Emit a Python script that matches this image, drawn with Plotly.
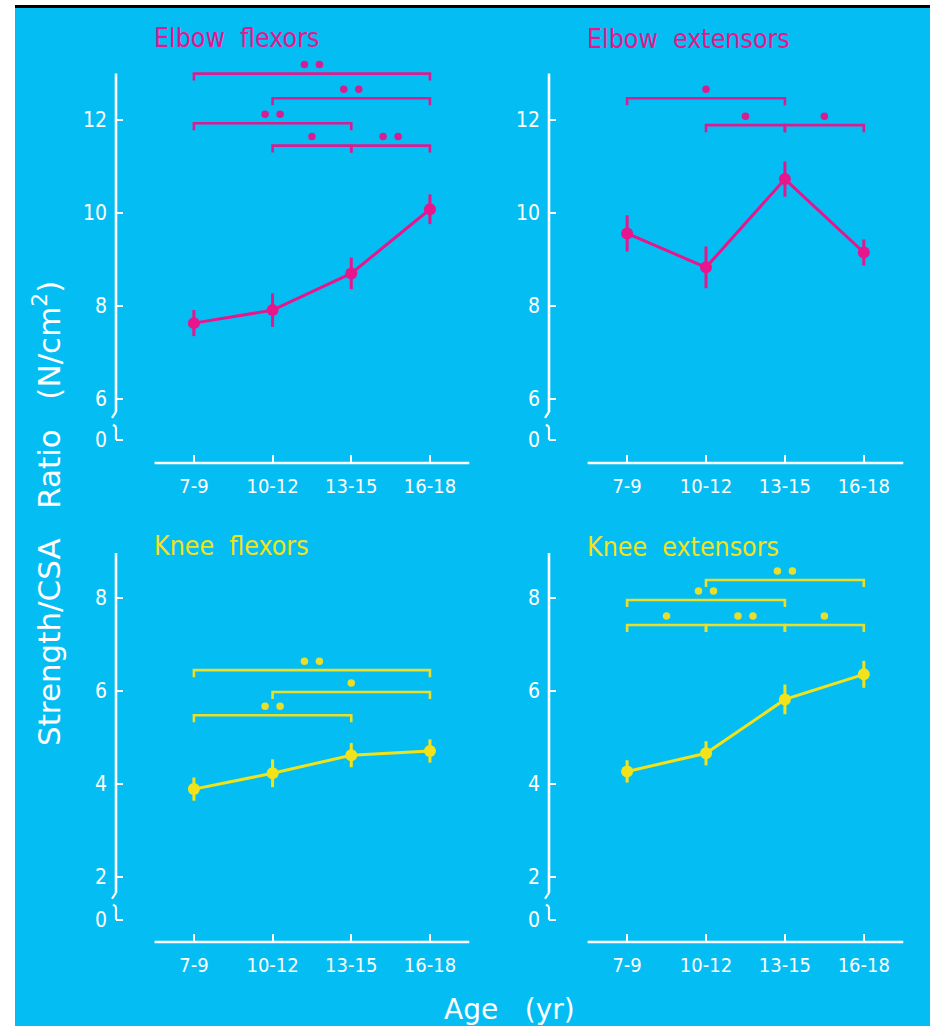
import plotly.graph_objects as go

# ---------------- data ----------------
categories = ["7-9", "10-12", "13-15", "16-18"]

elbow_flex_mean = [7.63, 7.91, 8.70, 10.08]
elbow_flex_err = [0.28, 0.36, 0.34, 0.32]
elbow_ext_mean = [9.56, 8.83, 10.73, 9.15]
elbow_ext_err = [0.39, 0.45, 0.38, 0.28]
knee_flex_mean = [3.89, 4.23, 4.62, 4.71]
knee_flex_err = [0.25, 0.30, 0.26, 0.25]
knee_ext_mean = [4.27, 4.66, 5.82, 6.36]
knee_ext_err = [0.24, 0.26, 0.32, 0.29]

# significance comparisons: (group i, group j, bracket level, number of stars)
sig_elbow_flex = [(0, 3, 13.0, 2), (1, 3, 12.47, 2), (0, 2, 11.93, 2), (1, 2, 11.45, 1), (2, 3, 11.45, 2)]
sig_elbow_ext = [(0, 2, 12.47, 1), (1, 2, 11.89, 1), (2, 3, 11.89, 1)]
sig_knee_flex = [(0, 3, 6.45, 2), (1, 3, 5.98, 1), (0, 2, 5.48, 2)]
sig_knee_ext = [(1, 3, 8.39, 2), (0, 2, 7.96, 2), (0, 1, 7.42, 1), (1, 2, 7.42, 2), (2, 3, 7.42, 1)]

top_ticks = [6, 8, 10, 12]
bottom_ticks = [2, 4, 6, 8]

# ---------------- style ----------------
W, H = 930, 1026
BG = "#04BEF3"
MAG = "#E8158C"
MAG_BR = "#D81C92"
YEL = "#F2E21A"
YEL_BR = "#E8DE2C"
WHITE = "#FFFFFF"
FONT = "DejaVu Sans Condensed, Liberation Sans Narrow, DejaVu Sans"
FONT_WIDE = "DejaVu Sans"

XR = [-0.99, 3.56]
panels = [
    dict(title="Elbow  flexors", color=MAG, bcol=MAG_BR, mean=elbow_flex_mean, err=elbow_flex_err,
         sig=sig_elbow_flex, xd=(116, 474), yd=(463, 55), yr=[4.62, 13.40], ticks=top_ticks,
         ytop=13.0, ybreak=5.72, yzero=5.12, title_px=37),
    dict(title="Elbow  extensors", color=MAG, bcol=MAG_BR, mean=elbow_ext_mean, err=elbow_ext_err,
         sig=sig_elbow_ext, xd=(549, 908), yd=(463, 55), yr=[4.62, 13.40], ticks=top_ticks,
         ytop=13.0, ybreak=5.72, yzero=5.12, title_px=39),
    dict(title="Knee  flexors", color=YEL, bcol=YEL_BR, mean=knee_flex_mean, err=knee_flex_err,
         sig=sig_knee_flex, xd=(116, 474), yd=(942, 540), yr=[0.60, 9.25], ticks=bottom_ticks,
         ytop=8.97, ybreak=1.66, yzero=1.08, title_px=545),
    dict(title="Knee  extensors", color=YEL, bcol=YEL_BR, mean=knee_ext_mean, err=knee_ext_err,
         sig=sig_knee_ext, xd=(549, 908), yd=(942, 540), yr=[0.60, 9.25], ticks=bottom_ticks,
         ytop=8.97, ybreak=1.66, yzero=1.08, title_px=546),
]

fig = go.Figure()
shapes = []
annotations = []
layout_axes = {}

xs = list(range(len(categories)))

for k, p in enumerate(panels, start=1):
    xa = "x" if k == 1 else f"x{k}"
    ya = "y" if k == 1 else f"y{k}"
    xkey = "xaxis" if k == 1 else f"xaxis{k}"
    ykey = "yaxis" if k == 1 else f"yaxis{k}"
    dom_w = p["xd"][1] - p["xd"][0]
    yscale = (p["yd"][0] - p["yd"][1]) / (p["yr"][1] - p["yr"][0])  # px per unit

    # significance brackets
    bx, by, sx, sy = [], [], [], []
    drop = 7 / yscale
    for (i, j, lvl, n) in p["sig"]:
        bx += [xs[i], xs[i], xs[j], xs[j], None]
        by += [lvl - drop, lvl, lvl, lvl - drop, None]
        mid = (xs[i] + xs[j]) / 2
        off = 7.5 / (dom_w / (XR[1] - XR[0]))
        if n == 1:
            sx += [mid]
            sy += [lvl + 9 / yscale]
        else:
            sx += [mid - off, mid + off]
            sy += [lvl + 9 / yscale] * 2
    fig.add_trace(go.Scatter(x=bx, y=by, mode="lines", line=dict(color=p["bcol"], width=2.6),
                             xaxis=xa, yaxis=ya, showlegend=False, hoverinfo="skip"))
    fig.add_trace(go.Scatter(x=sx, y=sy, mode="markers", marker=dict(color=p["bcol"], size=7.5),
                             xaxis=xa, yaxis=ya, showlegend=False, hoverinfo="skip"))

    # data
    fig.add_trace(go.Scatter(
        x=xs, y=p["mean"], mode="lines+markers",
        line=dict(color=p["color"], width=3),
        marker=dict(color=p["color"], size=12),
        error_y=dict(type="data", array=p["err"], visible=True, color=p["color"], thickness=3, width=0),
        xaxis=xa, yaxis=ya, showlegend=False, name=p["title"],
    ))

    layout_axes[xkey] = dict(
        domain=[p["xd"][0] / W, p["xd"][1] / W], range=XR, anchor=ya,
        showgrid=False, zeroline=False, showline=False,
        ticks="inside", ticklen=8, tickwidth=2.2, tickcolor=WHITE,
        tickvals=xs, ticktext=categories, ticklabelstandoff=9,
        tickfont=dict(color=WHITE, size=20, family=FONT),
    )
    layout_axes[ykey] = dict(
        domain=[1 - p["yd"][0] / H, 1 - p["yd"][1] / H], range=p["yr"], anchor=xa,
        showgrid=False, zeroline=False, showline=False,
        ticks="inside", ticklen=7, tickwidth=2.2, tickcolor=WHITE,
        tickvals=[p["yzero"]] + p["ticks"], ticktext=["0"] + [str(t) for t in p["ticks"]],
        ticklabelstandoff=8,
        tickfont=dict(color=WHITE, size=21, family=FONT),
    )

    # axis lines
    shapes.append(dict(type="line", xref=xa, yref=f"{ya} domain", x0=-0.5, x1=3.5, y0=0, y1=0,
                       line=dict(color=WHITE, width=2.6)))
    shapes.append(dict(type="line", xref=f"{xa} domain", yref=ya, x0=0, x1=0,
                       y0=p["ybreak"], y1=p["ytop"], line=dict(color=WHITE, width=2.6)))
    # axis break marks
    px = 1 / dom_w
    shapes.append(dict(type="line", xref=f"{xa} domain", yref=ya, x0=0, x1=-4 * px,
                       y0=p["ybreak"], y1=p["ybreak"] - 6 / yscale, line=dict(color=WHITE, width=2.2)))
    shapes.append(dict(type="line", xref=f"{xa} domain", yref=ya, x0=0, x1=0,
                       y0=p["yzero"], y1=p["yzero"] + 13 / yscale, line=dict(color=WHITE, width=2.2)))
    shapes.append(dict(type="line", xref=f"{xa} domain", yref=ya, x0=-3 * px, x1=0,
                       y0=p["yzero"] + 15 / yscale, y1=p["yzero"] + 13 / yscale, line=dict(color=WHITE, width=2.2)))

    annotations.append(dict(text=p["title"], xref=xa, yref="paper", x=-0.53, y=1 - p["title_px"] / H,
                            xanchor="left", yanchor="middle", showarrow=False,
                            font=dict(color=p["color"], size=26.5, family=FONT)))

# page decorations
shapes.append(dict(type="rect", xref="paper", yref="paper", x0=0, x1=15 / W, y0=0, y1=1,
                   fillcolor=WHITE, line=dict(width=0), layer="above"))
shapes.append(dict(type="rect", xref="paper", yref="paper", x0=0, x1=1, y0=1 - 5 / H, y1=1,
                   fillcolor=WHITE, line=dict(width=0), layer="above"))
shapes.append(dict(type="rect", xref="paper", yref="paper", x0=15 / W, x1=1, y0=1 - 8 / H, y1=1 - 5 / H,
                   fillcolor="#000000", line=dict(width=0), layer="above"))

annotations.append(dict(text="Strength/CSA   Ratio   (N/cm<sup>2</sup>)", xref="paper", yref="paper",
                        x=47 / W, y=1 - 514 / H, textangle=-90, showarrow=False,
                        xanchor="center", yanchor="middle",
                        font=dict(color=WHITE, size=31, family=FONT_WIDE)))
annotations.append(dict(text="Age   (yr)", xref="paper", yref="paper",
                        x=509 / W, y=1 - 1009 / H, showarrow=False,
                        xanchor="center", yanchor="middle",
                        font=dict(color=WHITE, size=28, family=FONT_WIDE)))

fig.update_layout(
    width=W, height=H,
    margin=dict(l=0, r=0, t=0, b=0),
    paper_bgcolor=BG, plot_bgcolor=BG,
    shapes=shapes, annotations=annotations,
    showlegend=False,
    **layout_axes,
)

fig.write_html("out.html")
